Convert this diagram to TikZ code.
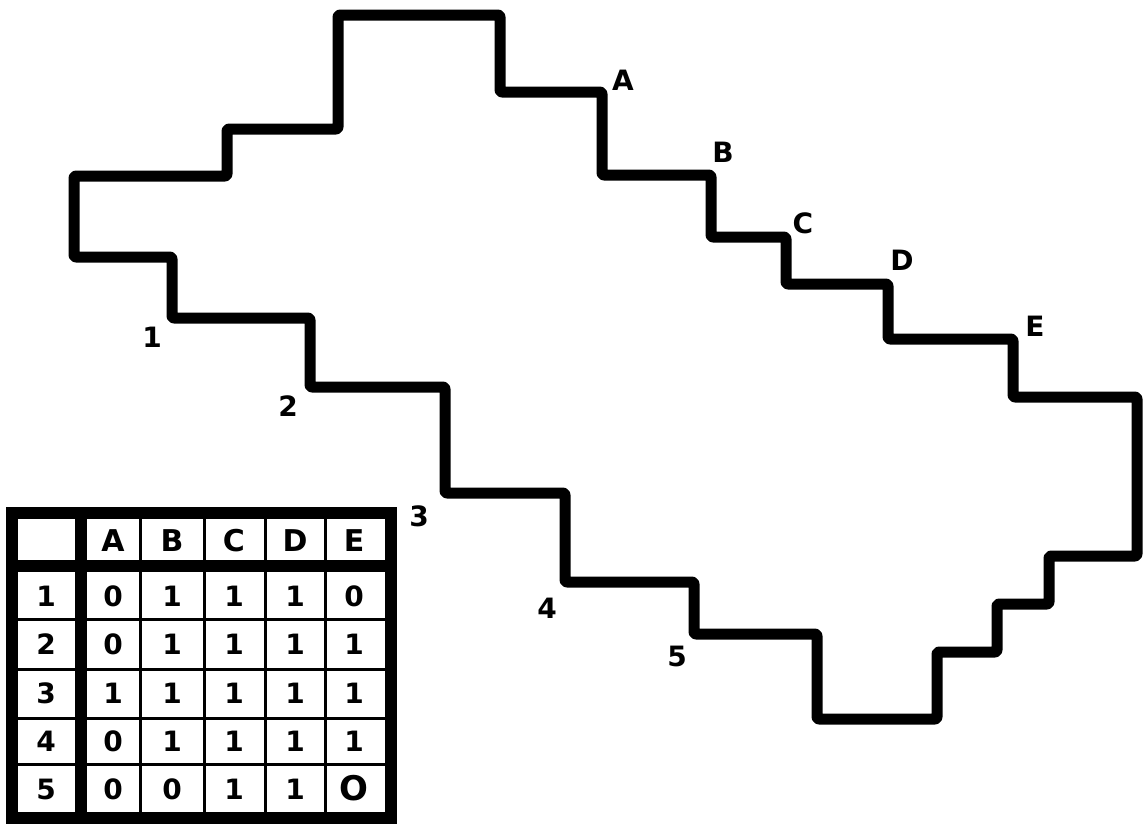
\documentclass[tikz,border=0pt]{standalone}
\usepackage{fontspec}
\setmainfont{DejaVu Sans}
\begin{document}
\begin{tikzpicture}[x=1pt,y=-1pt,
  outline/.style={line width=11pt,line join=round,rounded corners=2pt},
  lbl/.style={font=\fontsize{28}{28}\selectfont\bfseries},
  hdr/.style={font=\fontsize{30}{30}\selectfont\bfseries},
  cell/.style={font=\fontsize{28}{28}\selectfont\bfseries},
  thick border/.style={line width=12pt},
  thin rule/.style={line width=3pt}]
\useasboundingbox (0,0) rectangle (1143,823);
% outline
\draw[outline] (338,15) -- (500,15) -- (500,92) -- (602,92) -- (602,175) -- (711,175)
  -- (711,237) -- (786,237) -- (786,284) -- (888,284) -- (888,339) -- (1013,339)
  -- (1013,397) -- (1137,397) -- (1137,556) -- (1049,556) -- (1049,604) -- (997,604)
  -- (997,652) -- (937,652) -- (937,719) -- (817,719) -- (817,634) -- (694,634)
  -- (694,582) -- (565,582) -- (565,493) -- (445,493) -- (445,387) -- (310,387)
  -- (310,318) -- (172,318) -- (172,257) -- (74,257) -- (74,176) -- (227,176)
  -- (227,129) -- (338,129) -- cycle;
% column labels
\node[lbl] (lA) at (623,80) {A};
\node[lbl] (lB) at (723,152) {B};
\node[lbl] (lC) at (803,223) {C};
\node[lbl] (lD) at (902,260) {D};
\node[lbl] (lE) at (1035,326) {E};
% row labels
\node[lbl] (l1) at (152,337) {1};
\node[lbl] (l2) at (288,406) {2};
\node[lbl] (l3) at (419,516) {3};
\node[lbl] (l4) at (547,608) {4};
\node[lbl] (l5) at (677,656) {5};
% table rules
\draw[thin rule] (140,513) -- (140,818) (204,513) -- (204,818) (265,513) -- (265,818) (325,513) -- (325,818);
\draw[thin rule] (12,619) -- (391,619) (12,669) -- (391,669) (12,718) -- (391,718) (12,764) -- (391,764);
\draw[thick border] (81,513) -- (81,818);
\draw[thick border] (12,566) -- (391,566);
\draw[thick border] (12,513) rectangle (391,818);
% header
\node[hdr] (hA) at (113,541) {A};
\node[hdr] (hB) at (172,541) {B};
\node[hdr] (hC) at (234,541) {C};
\node[hdr] (hD) at (295,541) {D};
\node[hdr] (hE) at (354,541) {E};
% row heads
\node[cell] (r1) at (46,596) {1};
\node[cell] (r2) at (46,644) {2};
\node[cell] (r3) at (46,693) {3};
\node[cell] (r4) at (46,741) {4};
\node[cell] (r5) at (46,789) {5};
% cells
\node[cell] (c1a) at (113,596) {0};
\node[cell] (c1b) at (172,596) {1};
\node[cell] (c1c) at (234,596) {1};
\node[cell] (c1d) at (295,596) {1};
\node[cell] (c1e) at (354,596) {0};
\node[cell] (c2a) at (113,644) {0};
\node[cell] (c2b) at (172,644) {1};
\node[cell] (c2c) at (234,644) {1};
\node[cell] (c2d) at (295,644) {1};
\node[cell] (c2e) at (354,644) {1};
\node[cell] (c3a) at (113,693) {1};
\node[cell] (c3b) at (172,693) {1};
\node[cell] (c3c) at (234,693) {1};
\node[cell] (c3d) at (295,693) {1};
\node[cell] (c3e) at (354,693) {1};
\node[cell] (c4a) at (113,741) {0};
\node[cell] (c4b) at (172,741) {1};
\node[cell] (c4c) at (234,741) {1};
\node[cell] (c4d) at (295,741) {1};
\node[cell] (c4e) at (354,741) {1};
\node[cell] (c5a) at (113,789) {0};
\node[cell] (c5b) at (172,789) {0};
\node[cell] (c5c) at (234,789) {1};
\node[cell] (c5d) at (295,789) {1};
\node[cell,font=\fontsize{34}{34}\selectfont\bfseries] (c5e) at (354,788) {O};
\end{tikzpicture}
\end{document}
